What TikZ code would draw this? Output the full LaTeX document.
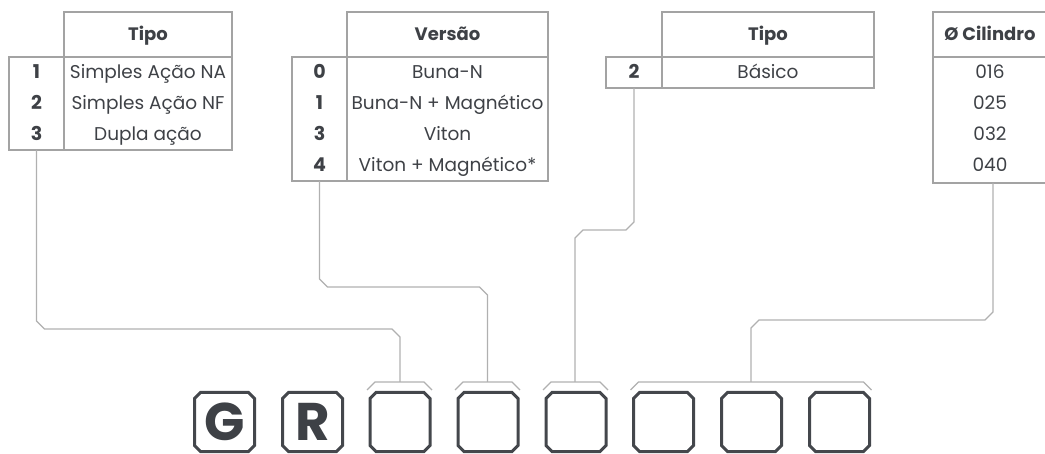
\documentclass[tikz,border=0pt]{standalone}
\usepackage{fontspec}
\setmainfont{Poppins}
\usetikzlibrary{calc}
\definecolor{txt}{HTML}{3E4146}
\definecolor{tbl}{HTML}{A3A3A3}
\definecolor{cnn}{HTML}{B0B0B0}
\definecolor{bx}{HTML}{44474C}
\tikzset{
  cell/.style={draw=tbl, line width=1.3pt, inner sep=0pt, outer sep=0pt, rectangle},
  hdr/.style={font=\fontsize{18}{18}\selectfont\bfseries, text=txt, inner sep=0pt, text height=16pt, text depth=3pt},
  num/.style={font=\fontsize{19}{19}\selectfont\bfseries, text=txt, inner sep=0pt, text height=16pt, text depth=3pt},
  val/.style={font=\fontsize{18.5}{18.5}\selectfont, text=txt, inner sep=0pt, text height=16pt, text depth=3pt},
  conn/.style={draw=cnn, line width=1.2pt},
  lbox/.style={minimum width=60pt, minimum height=59pt, inner sep=0pt, outer sep=0pt},
  letter/.style={text=txt, font=\fontsize{53}{53}\selectfont\bfseries, inner sep=0pt, text height=38pt, text depth=0pt},
  boxline/.style={draw=bx, line width=3pt, line join=miter}
}
\newcommand\chambox[1]{\draw[boxline] ($(#1.north west)+(6,0)$) -- ($(#1.north east)+(-6,0)$) -- ($(#1.north east)+(0,6)$) -- ($(#1.south east)+(0,-6)$) -- ($(#1.south east)+(-6,0)$) -- ($(#1.south west)+(6,0)$) -- ($(#1.south west)+(0,-6)$) -- ($(#1.north west)+(0,6)$) -- cycle;}
\newcommand\bracketline[2]{\draw[conn] ($(#1.north west)+(-3,-2.5)$) -- ($(#1.north west)+(5,-10.5)$) -- ($(#2.north east)+(-6,-10.5)$) -- ($(#2.north east)+(2,-2.5)$);}
\begin{document}
\begin{tikzpicture}[x=1pt,y=-1pt]
\useasboundingbox (0,0) rectangle (1045,454);
% Table 1
\node[cell, minimum width=168, minimum height=45] (t1h) at (148,34.5) {};
\node[hdr] (t1ht) at (148,34.5) {Tipo};
\node[cell, minimum width=55, minimum height=93] (t1n) at (36.5,103.5) {};
\node[cell, minimum width=168, minimum height=93] (t1v) at (148,103.5) {};
\node[num] (t1n1) at (36.5,72.5) {1};
\node[num] (t1n2) at (36.5,103.5) {2};
\node[num] (t1n3) at (36.5,134.5) {3};
\node[val] (t1v1) at (148,72.5) {Simples Ação NA};
\node[val] (t1v2) at (148,103.5) {Simples Ação NF};
\node[val] (t1v3) at (148,134.5) {Dupla ação};
% Table 2
\node[cell, minimum width=201, minimum height=45] (t2h) at (447.5,34.5) {};
\node[hdr] (t2ht) at (447.5,34.5) {Versão};
\node[cell, minimum width=55, minimum height=124] (t2n) at (319.5,119) {};
\node[cell, minimum width=201, minimum height=124] (t2v) at (447.5,119) {};
\node[num] (t2n1) at (319.5,72.5) {0};
\node[num] (t2n2) at (319.5,103.5) {1};
\node[num] (t2n3) at (319.5,134.5) {3};
\node[num] (t2n4) at (319.5,165.5) {4};
\node[val] (t2v1) at (447.5,72.5) {Buna-N};
\node[val] (t2v2) at (447.5,103.5) {Buna-N + Magnético};
\node[val] (t2v3) at (447.5,134.5) {Viton};
\node[val] (t2v4) at (447.5,165.5) {Viton + Magnético*};
% Table 3
\node[cell, minimum width=212, minimum height=45] (t3h) at (768,34.5) {};
\node[hdr] (t3ht) at (768,34.5) {Tipo};
\node[cell, minimum width=56, minimum height=31] (t3n) at (634,72.5) {};
\node[cell, minimum width=212, minimum height=31] (t3v) at (768,72.5) {};
\node[num] (t3n1) at (634,72.5) {2};
\node[val] (t3v1) at (768,72.5) {Básico};
% Table 4
\node[cell, minimum width=114, minimum height=45] (t4h) at (990,34.5) {};
\node[hdr] (t4ht) at (990,34.5) {Ø Cilindro};
\node[cell, minimum width=114, minimum height=126] (t4v) at (990,120) {};
\node[val] (t4v1) at (990,72.5) {016};
\node[val] (t4v2) at (990,103.5) {025};
\node[val] (t4v3) at (990,134.5) {032};
\node[val] (t4v4) at (990,165.5) {040};
% Boxes
\node[lbox] (b1) at (224.5,422) {};
\node[lbox] (b2) at (312.5,422) {};
\node[lbox] (b3) at (400,422) {};
\node[lbox] (b4) at (488,422) {};
\node[lbox] (b5) at (576,422) {};
\node[lbox] (b6) at (663.5,422) {};
\node[lbox] (b7) at (751.5,422) {};
\node[lbox] (b8) at (839.5,422) {};
\foreach \b in {b1,b2,b3,b4,b5,b6,b7,b8} {\chambox{\b}}
\node[letter] (lg) at (b1.center) {G};
\node[letter] (lr) at (b2.center) {R};
% Brackets
\bracketline{b3}{b3}
\bracketline{b4}{b4}
\bracketline{b5}{b5}
\bracketline{b6}{b8}
\coordinate (s3) at (400,382);
\coordinate (s4) at (487.5,382);
\coordinate (s5) at (575,382);
\coordinate (s6) at (751,382);
% Connectors
\draw[conn] (t1n.south) -- (36.5,321) -- (44.5,329) -- (392,329) -- (400,337) -- (s3);
\draw[conn] (t2n.south) -- (319.5,279) -- (327.5,287) -- (479.5,287) -- (487.5,295) -- (s4);
\draw[conn] (t3n.south) -- (634,222) -- (626,230) -- (583,230) -- (575,238) -- (s5);
\draw[conn] ($(t4v.south)+(3,0)$) -- (993,312) -- (985,320) -- (759,320) -- (751,328) -- (s6);
\end{tikzpicture}
\end{document}
